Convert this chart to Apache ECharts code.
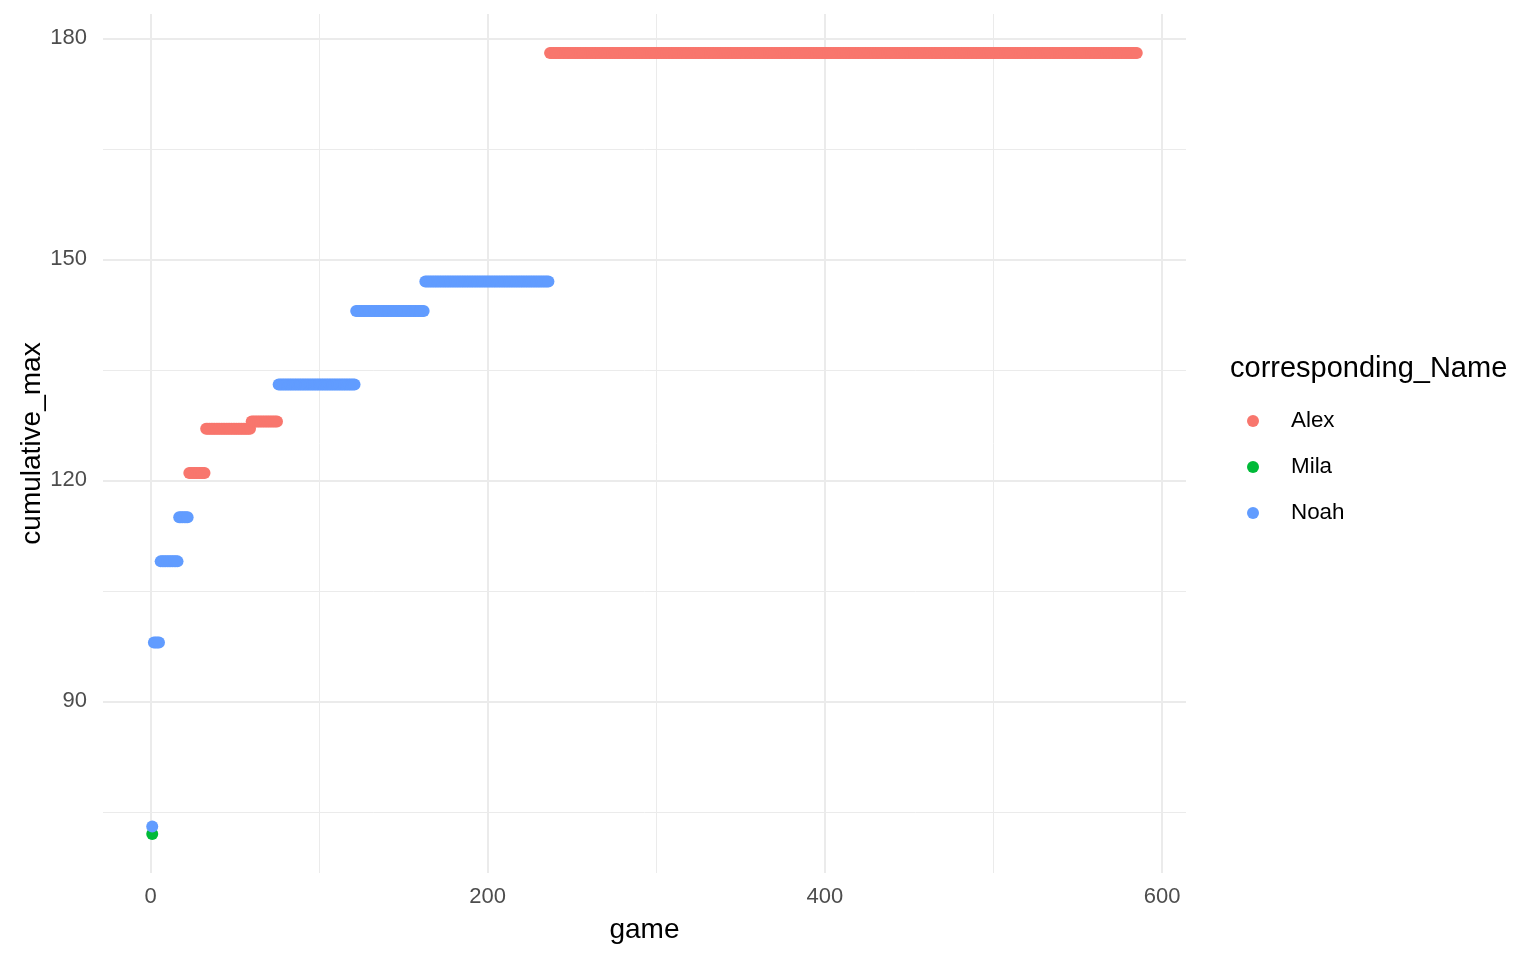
<!DOCTYPE html>
<html>
<head>
<meta charset="utf-8">
<script src="https://cdn.jsdelivr.net/npm/echarts@6/dist/echarts.min.js"></script>
<style>
html,body{margin:0;padding:0;background:#fff;}
#chart{width:1536px;height:960px;}
</style>
</head>
<body>
<div id="chart"></div>
<script>
// Run-length encoded data: each run = consecutive games with the same cumulative max
const names = ['Alex', 'Mila', 'Noah'];
const colors = ['#F8766D', '#00BA38', '#619CFF'];
const runName  = ['Mila', 'Noah', 'Noah', 'Noah', 'Noah', 'Alex', 'Alex', 'Alex', 'Noah', 'Noah', 'Noah', 'Alex'];
const runStart = [1, 1, 2, 6, 17, 23, 33, 60, 76, 122, 163, 237];
const runEnd   = [1, 1, 5, 16, 22, 32, 59, 75, 121, 162, 236, 585];
const runValue = [72, 73, 98, 109, 115, 121, 127, 128, 133, 143, 147, 178];
const xTicks = [0, 200, 400, 600];
const xMinor = [100, 300, 500];
const yTicks = [90, 120, 150, 180];
const yMinor = [75, 105, 135, 165];

const FONT = '"Liberation Sans", Arial, Helvetica, sans-serif';

const seriesData = {};
names.forEach(n => seriesData[n] = []);
for (let i = 0; i < runName.length; i++) {
  for (let g = runStart[i]; g <= runEnd[i]; g++) {
    seriesData[runName[i]].push([g, runValue[i]]);
  }
}

const xLo = Math.min(...runStart), xHi = Math.max(...runEnd);
const yLo = Math.min(...runValue), yHi = Math.max(...runValue);
const xPad = 0.05 * (xHi - xLo), yPad = 0.05 * (yHi - yLo);

const gridLine = (w) => ({ color: '#EBEBEB', width: w, type: 'solid' });
const markData = []
  .concat(xTicks.map(v => ({ xAxis: v, lineStyle: gridLine(2) })))
  .concat(xMinor.map(v => ({ xAxis: v, lineStyle: gridLine(1) })))
  .concat(yTicks.map(v => ({ yAxis: v, lineStyle: gridLine(2) })))
  .concat(yMinor.map(v => ({ yAxis: v, lineStyle: gridLine(1) })));

const chart = echarts.init(document.getElementById('chart'), null, { renderer: 'canvas' });

const series = [{
  name: '__grid',
  type: 'scatter',
  data: [],
  z: 1,
  silent: true,
  markLine: {
    silent: true,
    z: 1,
    symbol: ['none', 'none'],
    label: { show: false },
    emphasis: { disabled: true },
    animation: false,
    data: markData
  }
}].concat(names.map((n, i) => ({
  name: n,
  type: 'scatter',
  z: 3,
  symbol: 'circle',
  symbolSize: 12,
  itemStyle: { color: colors[i], opacity: 1 },
  emphasis: { disabled: true },
  data: seriesData[n]
})));

chart.setOption({
  animation: false,
  backgroundColor: '#ffffff',
  grid: { left: 103, right: 350, top: 14, bottom: 87, containLabel: false },
  xAxis: {
    type: 'value',
    min: xLo - xPad,
    max: xHi + xPad,
    name: 'game',
    nameLocation: 'middle',
    nameGap: 43,
    nameMoveOverlap: false,
    nameTextStyle: { fontFamily: FONT, fontSize: 28, color: '#000' },
    axisLine: { show: false },
    axisTick: { show: false, customValues: xTicks },
    splitLine: { show: false },
    axisLabel: {
      customValues: xTicks,
      fontFamily: FONT, fontSize: 22, color: '#4D4D4D', margin: 13
    }
  },
  yAxis: {
    type: 'value',
    min: yLo - yPad,
    max: yHi + yPad,
    name: 'cumulative_max',
    nameLocation: 'middle',
    nameRotate: 90,
    nameGap: 57,
    nameMoveOverlap: false,
    nameTextStyle: { fontFamily: FONT, fontSize: 28, color: '#000' },
    axisLine: { show: false },
    axisTick: { show: false, customValues: yTicks },
    splitLine: { show: false },
    axisLabel: {
      customValues: yTicks,
      fontFamily: FONT, fontSize: 22, color: '#4D4D4D', margin: 16
    }
  },
  legend: {
    data: names,
    orient: 'vertical',
    left: 1242,
    top: 404,
    itemWidth: 12,
    itemHeight: 12,
    itemGap: 22,
    icon: 'circle',
    selectedMode: false,
    textStyle: { fontFamily: FONT, fontSize: 22.4, color: '#000', lineHeight: 24, padding: [0, 0, 0, 27] }
  },
  graphic: [{
    type: 'text',
    left: 1230,
    top: 354,
    style: { text: 'corresponding_Name', fontFamily: FONT, fontSize: 29, fill: '#000' }
  }],
  series: series
});
</script>
</body>
</html>
